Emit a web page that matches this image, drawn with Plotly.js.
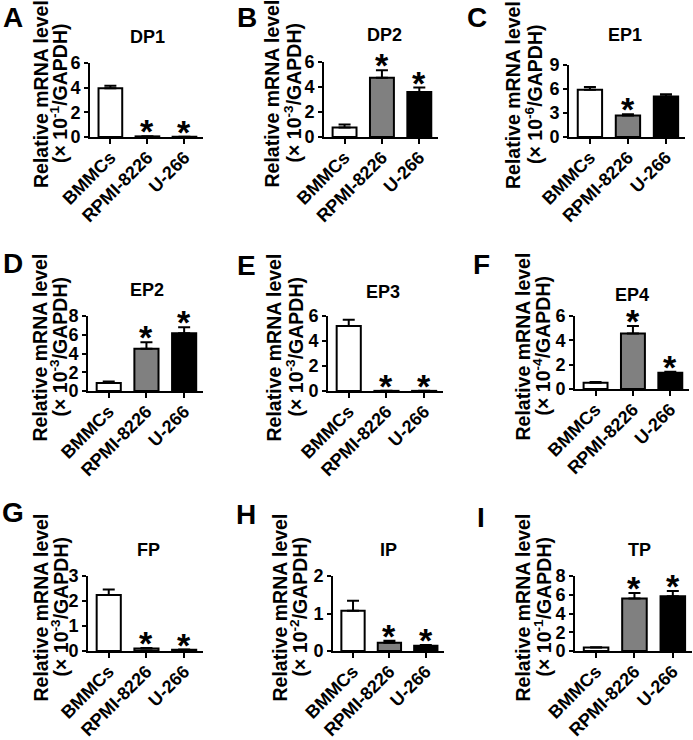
<!DOCTYPE html>
<html>
<head>
<meta charset="utf-8">
<script src="https://cdn.plot.ly/plotly-3.0.1.min.js"></script>
<style>
  body { margin: 0; background: #fff; }
  #chart { width: 693px; height: 740px; }
</style>
</head>
<body>
<div id="chart"></div>
<script>
// cell lines and bar fills
var cats = ["BMMCs", "RPMI-8226", "U-266"];
var fills = ["#ffffff", "#808080", "#000000"];

// receptor panels
var letters = ["A", "B", "C", "D", "E", "F", "G", "H", "I"];
var names = ["DP1", "DP2", "EP1", "EP2", "EP3", "EP4", "FP", "IP", "TP"];
var exps = ["-1", "-3", "-6", "-3", "-3", "-4", "-3", "-2", "-1"];
var yMax = [6, 6, 9, 8, 6, 6, 3, 2, 8];
var yStep = [2, 2, 3, 2, 2, 2, 1, 1, 2];

// mean and sem
var dp1 = [3.95, 0.05, 0.02],  dp1Err = [0.2, 0.01, 0.01];
var dp2 = [0.75, 4.75, 3.6],   dp2Err = [0.25, 0.6, 0.35];
var ep1 = [5.9, 2.7, 5.05],    ep1Err = [0.35, 0.15, 0.3];
var ep2 = [0.85, 4.5, 6.15],   ep2Err = [0.15, 0.7, 0.65];
var ep3 = [5.2, 0.01, 0.01],   ep3Err = [0.5, 0.005, 0.005];
var ep4 = [0.52, 4.57, 1.34],  ep4Err = [0.05, 0.6, 0.08];
var fp  = [2.24, 0.1, 0.05],   fpErr  = [0.22, 0.02, 0.01];
var ip  = [1.07, 0.22, 0.14],  ipErr  = [0.27, 0.05, 0.02];
var tp  = [0.36, 5.6, 5.85],   tpErr  = [0.05, 0.6, 0.55];

// significance marks (1 = asterisk)
var sigA = [0, 1, 1], sigB = [0, 1, 1], sigC = [0, 1, 0];
var sigD = [0, 1, 1], sigE = [0, 1, 1], sigF = [0, 1, 1];
var sigG = [0, 1, 1], sigH = [0, 1, 1], sigI = [0, 1, 1];

var means = [dp1, dp2, ep1, ep2, ep3, ep4, fp, ip, tp];
var errs = [dp1Err, dp2Err, ep1Err, ep2Err, ep3Err, ep4Err, fpErr, ipErr, tpErr];
var sigs = [sigA, sigB, sigC, sigD, sigE, sigF, sigG, sigH, sigI];

// plot boxes in pixels: left, right, top, bottom
var boxes = [
  [90, 203, 63, 137], [324, 438, 62, 137], [569, 685, 65, 137],
  [88, 203, 316, 391], [328, 443, 316, 391], [575, 689, 316, 389],
  [88, 203, 576, 651], [333, 444, 576, 651], [575, 692, 576, 651]
];
// title centre, y-title line x (two lines), letter top-left
var titleX = [147, 384, 625, 147, 383, 632, 148, 388, 639];
var titleY = [37, 35, 35, 290, 292, 295, 550, 550, 550];
var yt1 = [41, 272, 513, 40, 274, 522, 40, 279, 522];
var yt2 = [59, 293, 534, 59, 295, 541, 59, 298, 542];
var letterXY = [[1, 0], [235, 0], [465, 0], [1, 246], [235, 248], [471, 247], [0, 495], [234, 497], [475, 500]];

var W = 693, H = 740;
var fam = "Liberation Sans, Arial, sans-serif";

var data = [];
var layout = {
  width: W, height: H,
  margin: {l: 0, r: 0, t: 0, b: 0},
  paper_bgcolor: "#fff", plot_bgcolor: "#fff",
  showlegend: false,
  bargap: 0.36,
  font: {family: fam, color: "#000", weight: "bold"},
  annotations: []
};

for (var i = 0; i < 9; i++) {
  var n = i == 0 ? "" : String(i + 1);
  var b = boxes[i];
  var minus = means[i].map(function () { return 0; });
  data.push({
    type: "bar",
    x: cats, y: means[i],
    xaxis: "x" + n, yaxis: "y" + n,
    marker: {color: fills, line: {color: "#000", width: 2}},
    error_y: {type: "data", symmetric: false, array: errs[i], arrayminus: minus,
              color: "#000", thickness: 2, width: 6},
    hoverinfo: "none"
  });
  var tv = [];
  for (var v = 0; v <= yMax[i]; v += yStep[i]) tv.push(v);
  layout["xaxis" + n] = {
    domain: [b[0] / W, b[1] / W], anchor: "y" + n,
    range: [-0.55, 2.5],
    showline: true, linewidth: 2, linecolor: "#000",
    ticks: "outside", ticklen: 5, tickwidth: 2, tickcolor: "#000",
    tickangle: -45, showgrid: false, zeroline: false,
    ticklabeloverflow: "allow", ticklabelstandoff: -4,
    tickfont: {size: 18, family: fam, weight: "bold"}
  };
  layout["yaxis" + n] = {
    domain: [1 - b[3] / H, 1 - b[2] / H], anchor: "x" + n,
    range: [0, yMax[i]], tickvals: tv,
    showline: true, linewidth: 2, linecolor: "#000",
    ticks: "outside", ticklen: 4, tickwidth: 2, tickcolor: "#000",
    ticklabelstandoff: 0,
    showgrid: false, zeroline: false,
    tickfont: {size: 18, family: fam, weight: "bold"}
  };
  var cy = (b[2] + b[3]) / 2 - 6;
  layout.annotations.push(
    {xref: "paper", yref: "paper", x: titleX[i] / W, y: 1 - titleY[i] / H,
     text: names[i], showarrow: false, xanchor: "center", yanchor: "middle",
     font: {size: 18, weight: "bold"}},
    {xref: "paper", yref: "paper", x: letterXY[i][0] / W, y: 1 - letterXY[i][1] / H,
     text: letters[i], showarrow: false, xanchor: "left", yanchor: "top",
     font: {size: 28, weight: "bold"}},
    {xref: "paper", yref: "paper", x: yt1[i] / W, y: 1 - cy / H, textangle: -90,
     text: "Relative mRNA level", showarrow: false, xanchor: "center", yanchor: "middle",
     font: {size: 19.5, weight: "bold"}},
    {xref: "paper", yref: "paper", x: yt2[i] / W, y: 1 - cy / H, textangle: -90,
     text: "(× 10<sup>" + exps[i] + "</sup>/GAPDH)", showarrow: false,
     xanchor: "center", yanchor: "middle", font: {size: 19.5, weight: "bold"}}
  );
  for (var k = 0; k < 3; k++) {
    if (!sigs[i][k]) continue;
    layout.annotations.push({
      xref: "x" + n, yref: "y" + n, x: cats[k], y: means[i][k] + errs[i][k],
      text: "*", showarrow: false, xanchor: "center", yanchor: "bottom",
      yshift: -16, font: {size: 34, weight: "bold"}
    });
  }
}

Plotly.newPlot("chart", data, layout, {staticPlot: true});
</script>
</body>
</html>
